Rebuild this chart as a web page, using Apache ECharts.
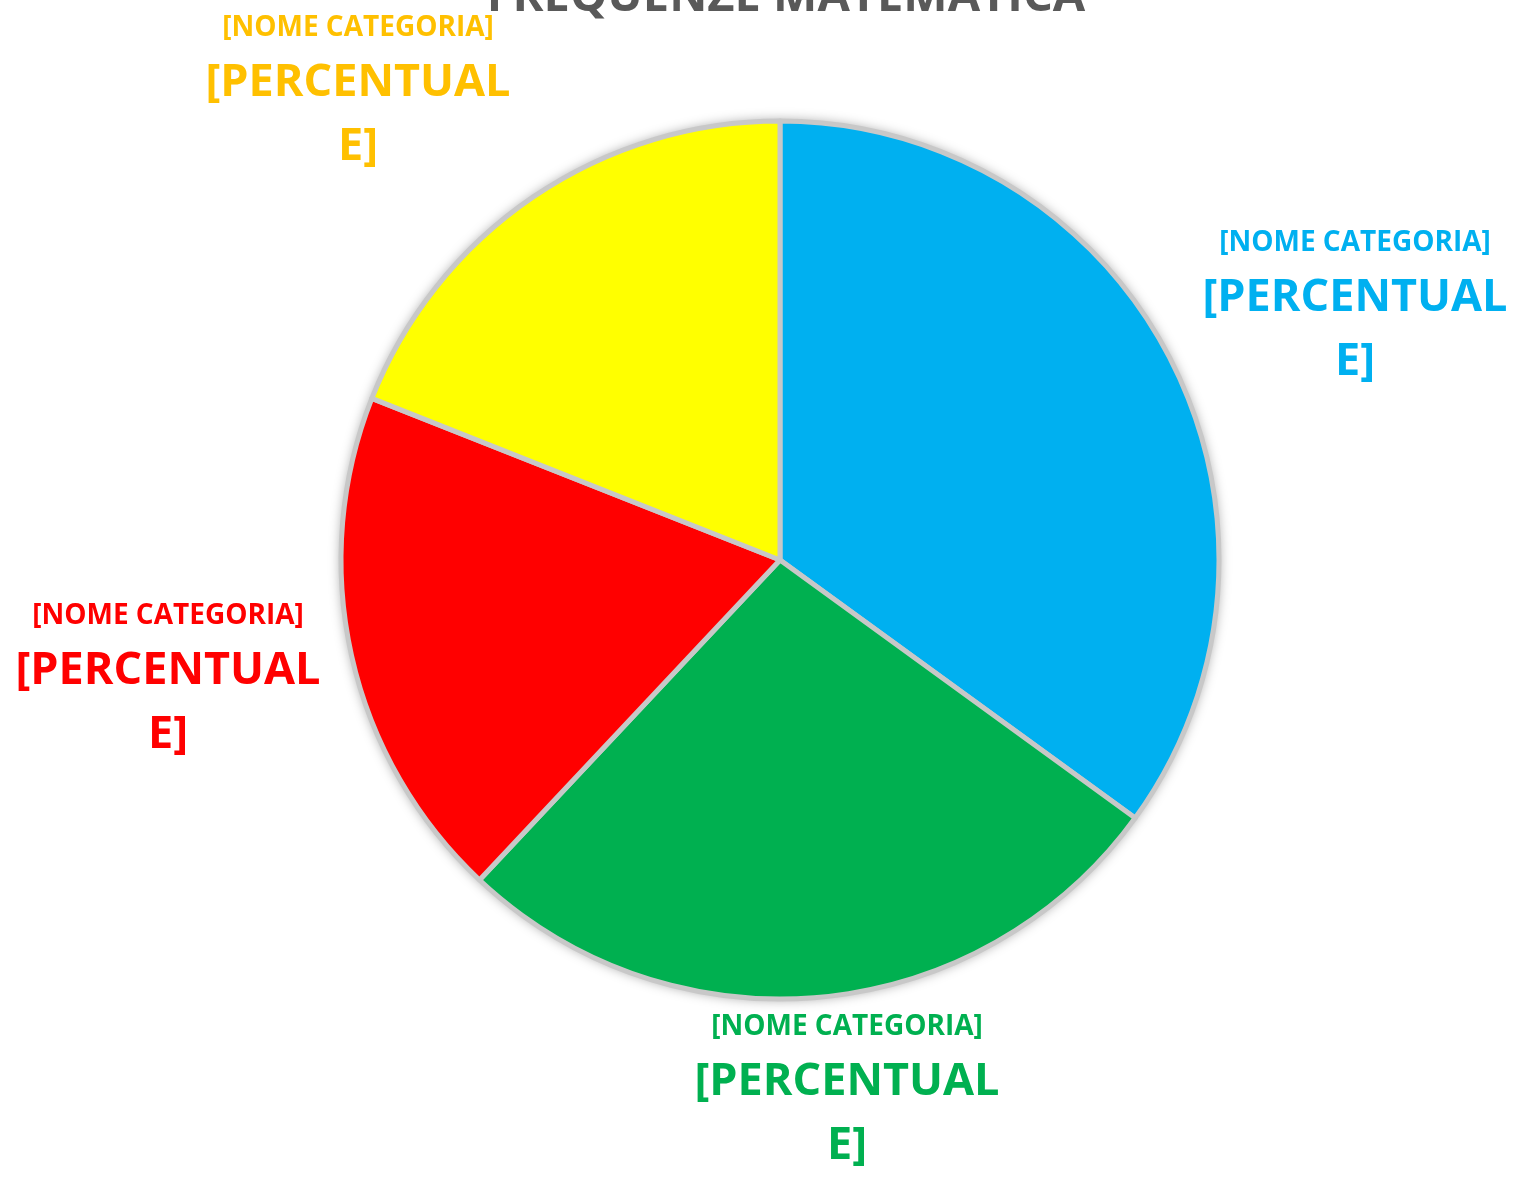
<!DOCTYPE html>
<html>
<head>
<meta charset="utf-8">
<script src="https://cdn.jsdelivr.net/npm/echarts@6/dist/echarts.min.js"></script>
<style>
  html, body { margin: 0; padding: 0; background: #fff; }
  #chart { width: 1524px; height: 1182px; }
</style>
</head>
<body>
<div id="chart"></div>
<script>
// slices, clockwise from 12 o'clock
const categories = ['[NOME CATEGORIA]', '[NOME CATEGORIA]', '[NOME CATEGORIA]', '[NOME CATEGORIA]'];
const values = [35, 27, 19, 19];
const sliceColors = ['#00B0F0', '#00B050', '#FF0000', '#FFFF00'];
const labelColors = ['#00B0F0', '#00B050', '#FF0000', '#FFC000'];
const valueText = '[PERCENTUAL\nE]';

// where excel dropped the labels (center x, top y)
const labelSpots = [[1355, 220], [847, 1004], [168, 593], [358, 5]];

const font = '"Open Sans", "Noto Sans", sans-serif';

const chart = echarts.init(document.getElementById('chart'), null, {renderer: 'canvas'});

const option = {
    backgroundColor: '#fff',
    animation: false,
    title: {
        text: 'FREQUENZE MATEMATICA',
        left: 781,
        textAlign: 'center',
        top: -31,
        textStyle: {
            color: '#595959',
            fontFamily: font,
            fontWeight: 'bold',
            fontSize: 47
        }
    },
    series: [
        {
            // shadow disc behind the pie
            type: 'pie',
            silent: true,
            center: [780, 560],
            radius: 440,
            label: {show: false},
            labelLine: {show: false},
            itemStyle: {
                color: '#d8d8d8',
                shadowBlur: 12,
                shadowColor: 'rgba(0,0,0,0.35)'
            },
            data: [1]
        },
        {
            type: 'pie',
            center: [780, 560],
            radius: 439,
            startAngle: 90,
            clockwise: true,
            itemStyle: {
                borderColor: '#C8C8C8',
                borderWidth: 5
            },
            labelLine: {show: false},
            label: {
                show: true,
                position: 'outside',
                alignTo: 'none',
                overflow: 'none',
                align: 'center',
                formatter: p => '{a|' + p.name + '}\n' +
                    valueText.split('\n').map(s => '{b|' + s + '}').join('\n'),
                rich: {
                    a: {fontSize: 28, fontWeight: 'bold', lineHeight: 46, fontFamily: font, align: 'center'},
                    b: {fontSize: 45, fontWeight: 'bold', lineHeight: 64, fontFamily: font, align: 'center'}
                }
            },
            labelLayout: p => ({
                x: labelSpots[p.dataIndex][0],
                y: labelSpots[p.dataIndex][1],
                align: 'center',
                verticalAlign: 'top',
                width: 400
            }),
            data: values.map((v, i) => ({
                name: categories[i],
                value: v,
                itemStyle: {color: sliceColors[i]},
                label: {color: labelColors[i]}
            }))
        }
    ]
};

chart.setOption(option);
</script>
</body>
</html>
